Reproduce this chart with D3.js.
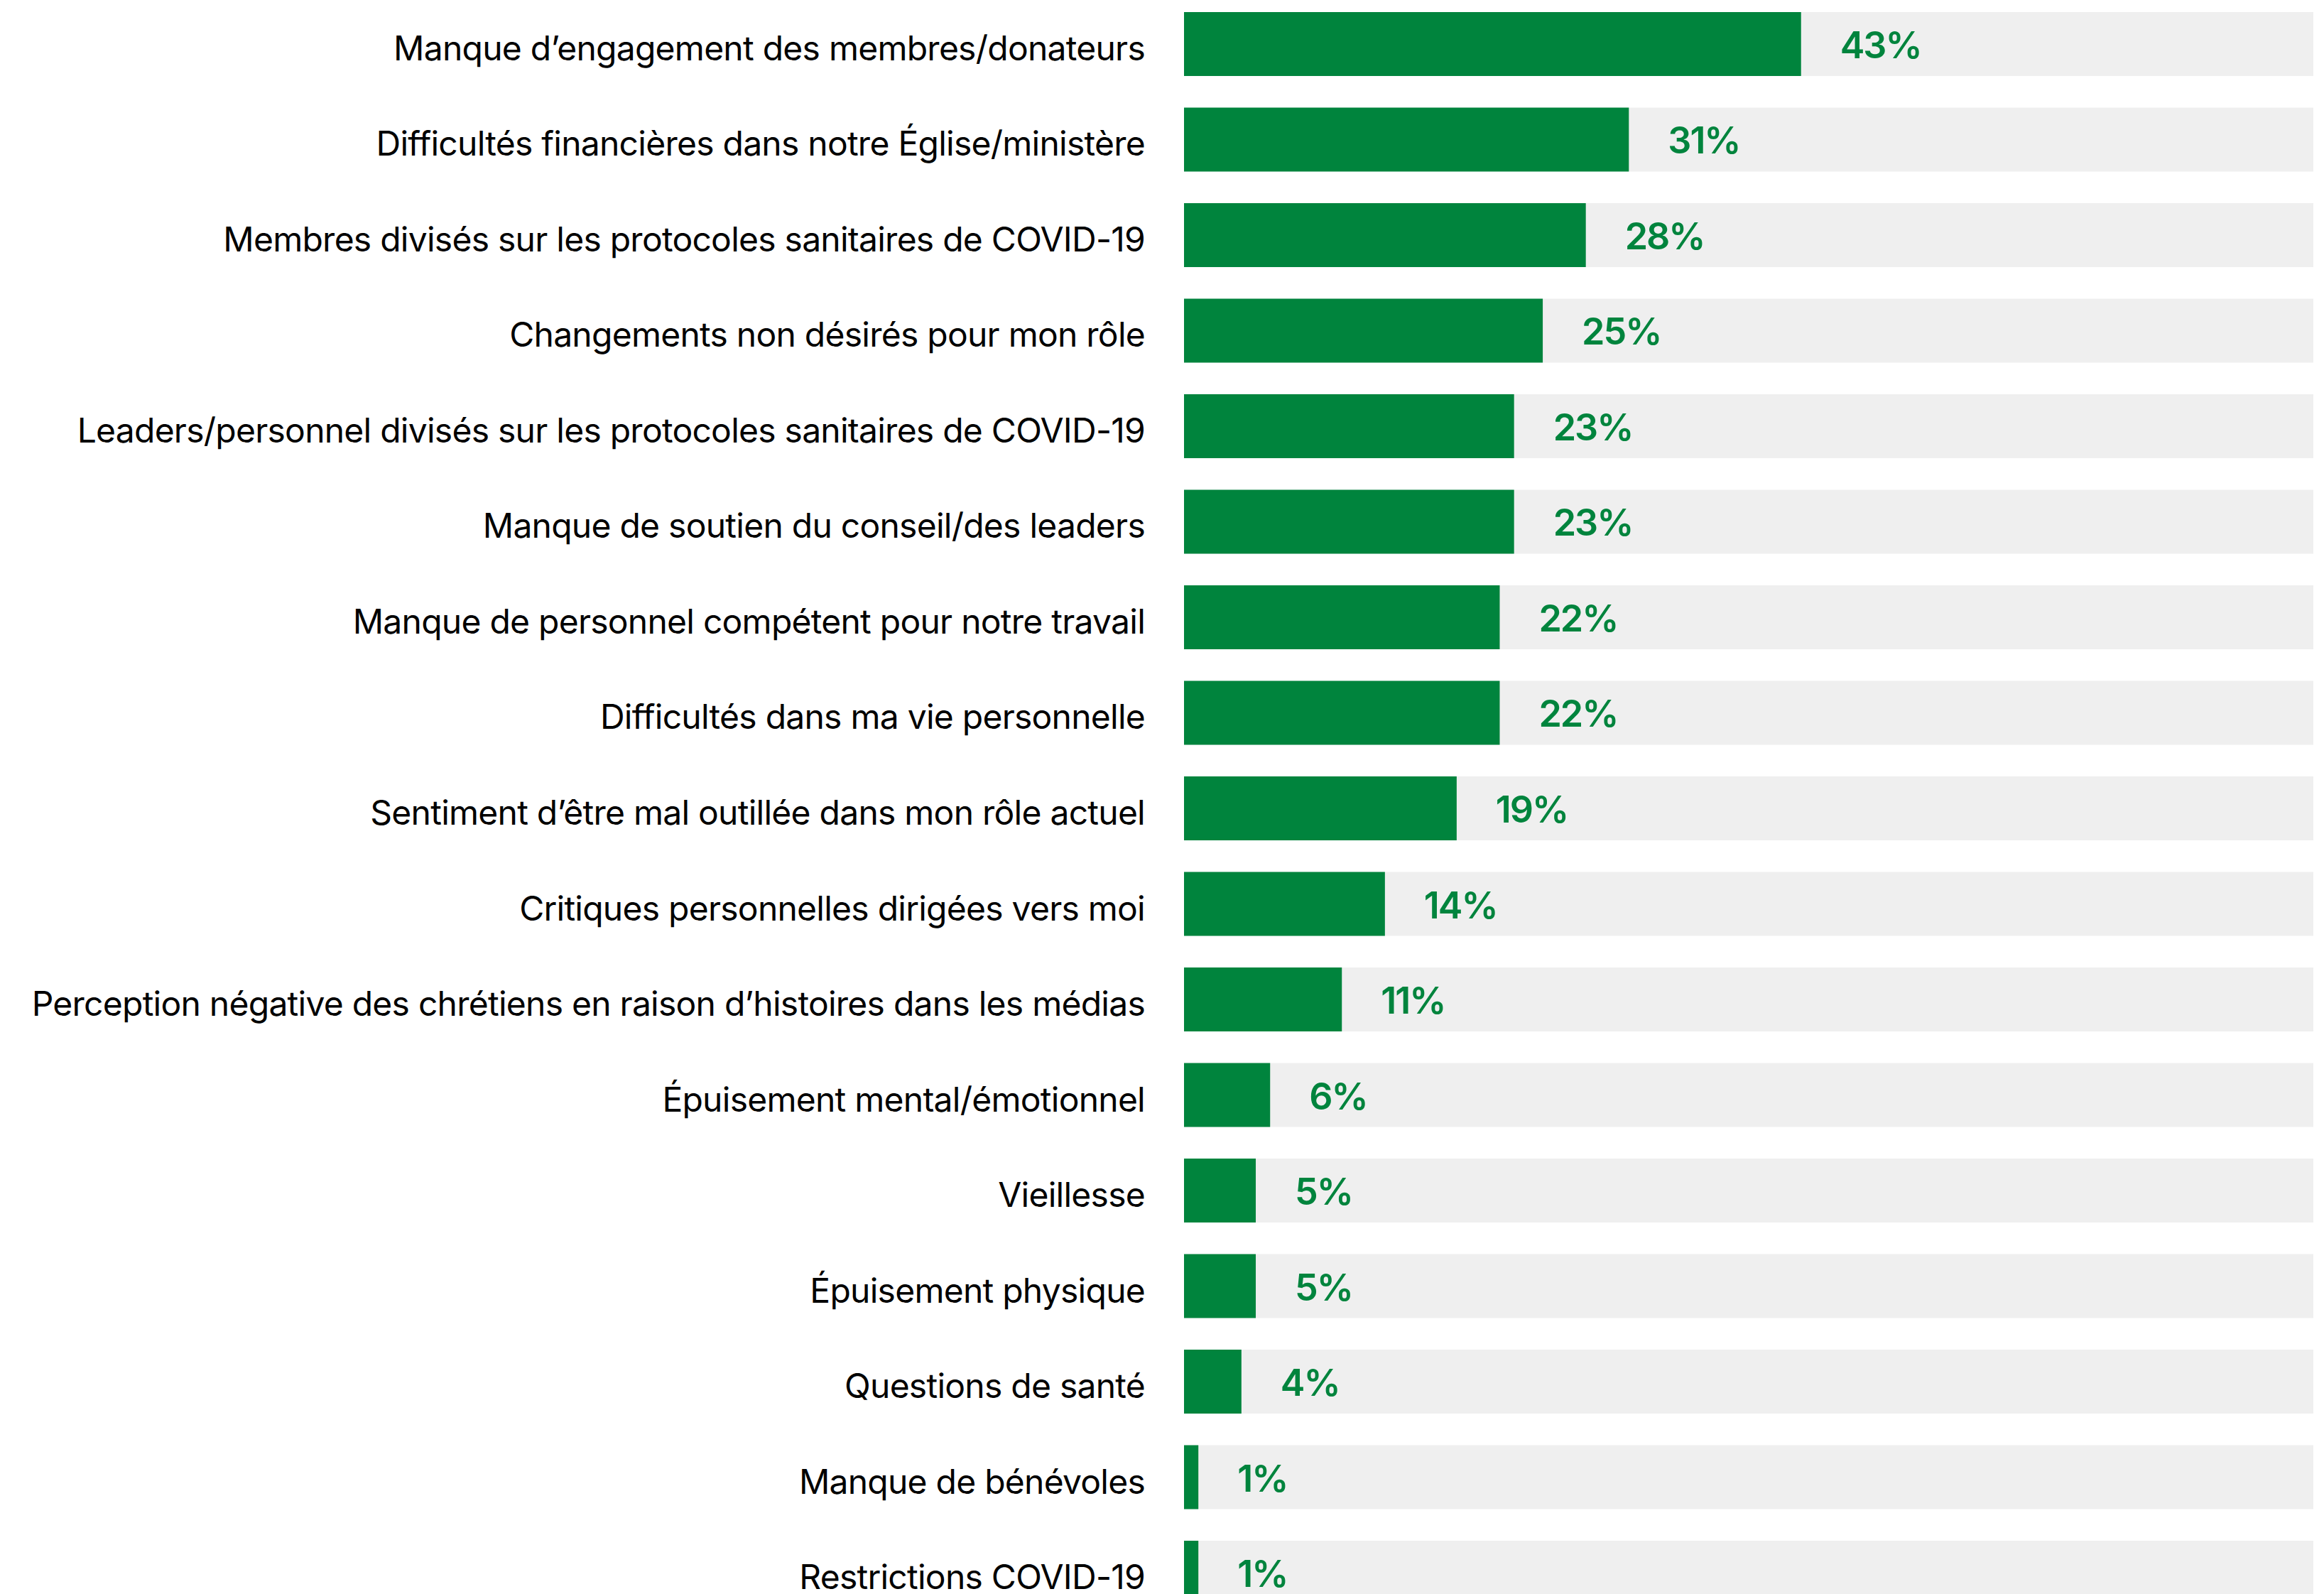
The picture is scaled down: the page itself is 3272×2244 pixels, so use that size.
<!DOCTYPE html>
<html>
<head>
<meta charset="utf-8">
<script src="https://cdn.jsdelivr.net/npm/d3@7"></script>
<style>
  html, body { margin: 0; padding: 0; background: #ffffff; }
  svg { display: block; }
</style>
</head>
<body>
<svg id="chart"></svg>
<script>
// Défis rencontrés — part des répondants (%)
const categories = [
  "Manque d’engagement des membres/donateurs",
  "Difficultés financières dans notre Église/ministère",
  "Membres divisés sur les protocoles sanitaires de COVID-19",
  "Changements non désirés pour mon rôle",
  "Leaders/personnel divisés sur les protocoles sanitaires de COVID-19",
  "Manque de soutien du conseil/des leaders",
  "Manque de personnel compétent pour notre travail",
  "Difficultés dans ma vie personnelle",
  "Sentiment d’être mal outillée dans mon rôle actuel",
  "Critiques personnelles dirigées vers moi",
  "Perception négative des chrétiens en raison d’histoires dans les médias",
  "Épuisement mental/émotionnel",
  "Vieillesse",
  "Épuisement physique",
  "Questions de santé",
  "Manque de bénévoles",
  "Restrictions COVID-19"
];
const values = [43, 31, 28, 25, 23, 23, 22, 22, 19, 14, 11, 6, 5, 5, 4, 1, 1];
const trackMax = 78.7; // extent of the grey track behind each bar

const W = 3272, H = 2244;
const green = "#00843D";
const track = "#EFEFEF";

const svg = d3.select("#chart").attr("width", W).attr("height", H);

const x = d3.scaleLinear().domain([0, trackMax]).range([1667, 3257]);
const y = d3.scaleBand()
  .domain(categories)
  .range([17, 2259])
  .paddingInner(0.331)
  .paddingOuter(0);

const data = categories.map((c, i) => ({ cat: c, val: values[i] }));

const rows = svg.append("g").selectAll("g.row")
  .data(data)
  .join("g")
  .attr("class", "row");

// grey track
rows.append("rect")
  .attr("x", x(0))
  .attr("y", d => y(d.cat))
  .attr("width", x(trackMax) - x(0))
  .attr("height", y.bandwidth())
  .attr("fill", track);

// value bar
rows.append("rect")
  .attr("x", x(0))
  .attr("y", d => y(d.cat))
  .attr("width", d => x(d.val) - x(0))
  .attr("height", y.bandwidth())
  .attr("fill", green);

// category labels
rows.append("text")
  .attr("x", 1612)
  .attr("y", d => y(d.cat) + y.bandwidth() / 2 + 23)
  .attr("text-anchor", "end")
  .attr("font-family", "Inter, 'Noto Sans', sans-serif")
  .attr("font-size", 48)
  .attr("font-weight", 400)
  .attr("letter-spacing", -0.75)
  .attr("fill", "#000")
  .text(d => d.cat);

// value labels
rows.append("text")
  .attr("x", d => x(d.val) + 55)
  .attr("y", d => y(d.cat) + y.bandwidth() / 2 + 20)
  .attr("text-anchor", "start")
  .attr("font-family", "Inter, 'Noto Sans', sans-serif")
  .attr("font-size", 52)
  .attr("font-weight", 600)
  .attr("letter-spacing", -2)
  .attr("fill", green)
  .text(d => d.val + "%");
</script>
</body>
</html>
